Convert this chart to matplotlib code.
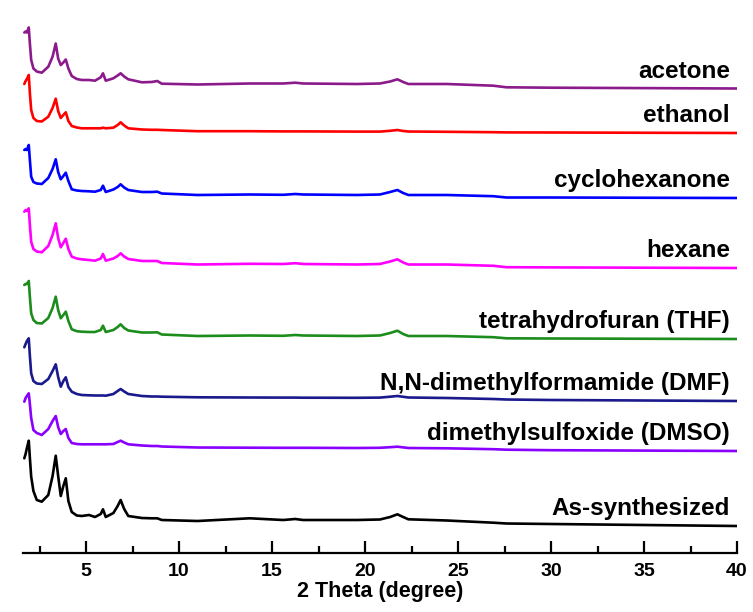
import matplotlib.pyplot as plt
from matplotlib.ticker import MultipleLocator

plt.rcParams['font.family'] = ['Liberation Sans', 'DejaVu Sans']
plt.rcParams['font.weight'] = 'bold'

# common 2-theta grid (degree) for all patterns
two_theta = [1.68, 1.75, 1.82, 1.92, 1.98, 2.05, 2.17, 2.35, 2.62, 2.97, 3.2, 3.37, 3.5,
             3.64, 3.78, 3.91, 4.05, 4.23, 4.5, 4.77, 5.16, 5.48, 5.79, 5.91, 6.06,
             6.47, 6.7, 6.86, 7.05, 7.27, 8.0, 8.53, 8.83, 9.07, 11.0, 13.8, 15.6,
             16.25, 16.67, 19.55, 20.8, 21.35, 21.74, 22.05, 22.33, 24.4, 26.9, 27.6,
             30.0, 40.0]

# intensities (a.u.) above each pattern's own baseline
acetone = [56, 57, 56, 61, 45, 28.5, 20, 17, 15.8, 21.8, 31.8, 45, 30,
           23.5, 26, 29, 20, 12.5, 9.5, 8.5, 8.5, 7.8, 11.2, 15.2, 7.8,
           10.2, 13, 15.2, 12, 9.2, 6.2, 6.5, 7.5, 4.8, 4.0, 5.0, 5.0,
           5.8, 5.0, 4.5, 5.0, 7, 9.2, 6.5, 4.5, 4.5, 2.8, 1.2,
           0.8, 0]
ethanol = [49, 52, 54, 58, 40, 23, 15, 12, 11.5, 16.3, 25, 34.3, 22,
           15, 18, 20.7, 12, 7, 5.5, 4.7, 4.7, 4.7, 4.7, 5.3, 4.7,
           5.3, 8, 10.7, 7.5, 4.7, 3.5, 3.2, 3.2, 3, 1.8, 1.8, 1.6,
           1.6, 1.6, 1.4, 1.4, 2.2, 3, 2, 1.5, 1.2, 0.8, 0.6,
           0.5, 0]
cyclohexanone = [48, 49, 48, 53, 38, 21.3, 16, 14.5, 14, 20, 29, 38.7, 26,
                 18.7, 22, 25.3, 17, 8.7, 7.5, 7, 6.7, 6.3, 8, 12.3, 6,
                 8.5, 11, 13.7, 10.5, 8, 6, 6, 6.3, 4.5, 3, 3.5, 3.2,
                 4, 3.5, 3, 3.5, 6, 8, 5, 3, 3, 1.8, 0.5,
                 0.5, 0]
hexane = [56.3, 58, 57, 59.7, 43, 26.3, 19, 16.5, 15.7, 22, 33, 44.7, 30,
          20.7, 25, 29.3, 19, 11.3, 9.5, 8.7, 8, 7.3, 9.5, 14, 7.3,
          9.5, 12, 14.7, 11.5, 9, 7, 7, 7, 5, 3.5, 4.2, 4,
          4.8, 4, 3.5, 4, 6.5, 8.7, 5.5, 3.5, 3.5, 2.2, 0.8,
          0.6, 0]
thf = [54, 55, 55, 58, 42, 25.7, 19, 16, 15.5, 21, 31, 42.3, 29,
       20.7, 24, 27.3, 18, 9.7, 7.8, 7.3, 7, 7, 9, 13.3, 7,
       9, 12, 14.7, 11, 8.5, 6.5, 6.5, 6.7, 4.5, 3, 3.5, 3.2,
       4, 3.5, 3, 3.5, 6, 8.3, 5, 3, 3, 1.8, 0.7,
       0.5, 0]
dmf = [53.7, 57, 60, 62.7, 45, 27.7, 20, 17.5, 17, 22, 30, 36.7, 24,
       14.3, 20, 23.7, 14, 9.3, 7, 6, 5.7, 5.5, 5.5, 5.5, 5.3,
       7, 10, 12, 9.5, 7, 5, 4.5, 4.5, 4.3, 3.7, 3.5, 3.4,
       3.4, 3.3, 3.2, 3.4, 4.3, 5, 4.2, 3.5, 3, 2, 1.5,
       1, 0]
dmso = [49.3, 53, 55, 57.7, 47, 33, 21, 18, 16, 22, 30, 35, 24,
        17, 20, 22, 13, 8, 7, 6.7, 6.7, 6.7, 6.7, 6.7, 6.7,
        7, 9, 10.3, 8.5, 6.7, 5.5, 5, 5, 4.5, 3.5, 3.3, 3.2,
        3.2, 3.2, 3, 3.2, 3.8, 4.3, 3.6, 3, 2.7, 1.8, 1.3,
        0.8, 0]
as_synthesized = [67.7, 72, 78, 85.3, 68, 49.3, 35, 26, 24.3, 31, 50, 70.3, 50,
                  30, 40, 47.7, 25, 14, 10.5, 10, 11, 9, 12, 16.7, 9,
                  13, 20, 26, 17, 10, 8, 7.7, 7.7, 6, 5, 7.7, 6,
                  7, 6, 6, 6.5, 9, 11.7, 9, 6.7, 5.5, 3.3, 2.5,
                  2, 0]

names = ['acetone', 'ethanol', 'cyclohexanone', 'hexane', 'tetrahydrofuran (THF)',
         'N,N-dimethylformamide (DMF)', 'dimethylsulfoxide (DMSO)', 'As-synthesized']
patterns = [acetone, ethanol, cyclohexanone, hexane, thf, dmf, dmso, as_synthesized]
offsets = [464.5, 420, 355, 285, 214, 152, 102, 27]
colors = ['#8B1A8B', '#FF0000', '#0000FF', '#FF00FF', '#1C8C1C', '#1A1A8C', '#8A00FF', '#000000']

fig = plt.figure(figsize=(7.53, 6.12), dpi=100)
ax = fig.add_axes([23 / 753, 59 / 612, 714 / 753, 553 / 612])

for name, y, off, c in zip(names, patterns, offsets, colors):
    ax.plot(two_theta, [v + off for v in y], color=c, lw=1.9,
            solid_joinstyle='round', solid_capstyle='round')
    ax.text(39.62, off + 11, name, ha='right', va='baseline', fontsize=17.5,
            fontweight='bold')

ax.set_xlim(1.61, 40)
ax.set_ylim(0, 553)
for side in ['left', 'right', 'top']:
    ax.spines[side].set_visible(False)
ax.spines['bottom'].set_linewidth(1.6)
ax.set_yticks([])
ax.xaxis.set_major_locator(MultipleLocator(5))
ax.xaxis.set_minor_locator(MultipleLocator(2.5))
ax.tick_params(axis='x', which='major', direction='in', length=8.5, width=1.6,
               labelsize=14, pad=7)
ax.tick_params(axis='x', which='minor', direction='in', length=5, width=1.6)
for lab in ax.get_xticklabels():
    lab.set_fontweight('bold')
ax.set_xlabel('2 Theta (degree)', fontsize=15.5, fontweight='bold', labelpad=1)

fig.savefig('out.png', dpi=100)
plt.close(fig)
